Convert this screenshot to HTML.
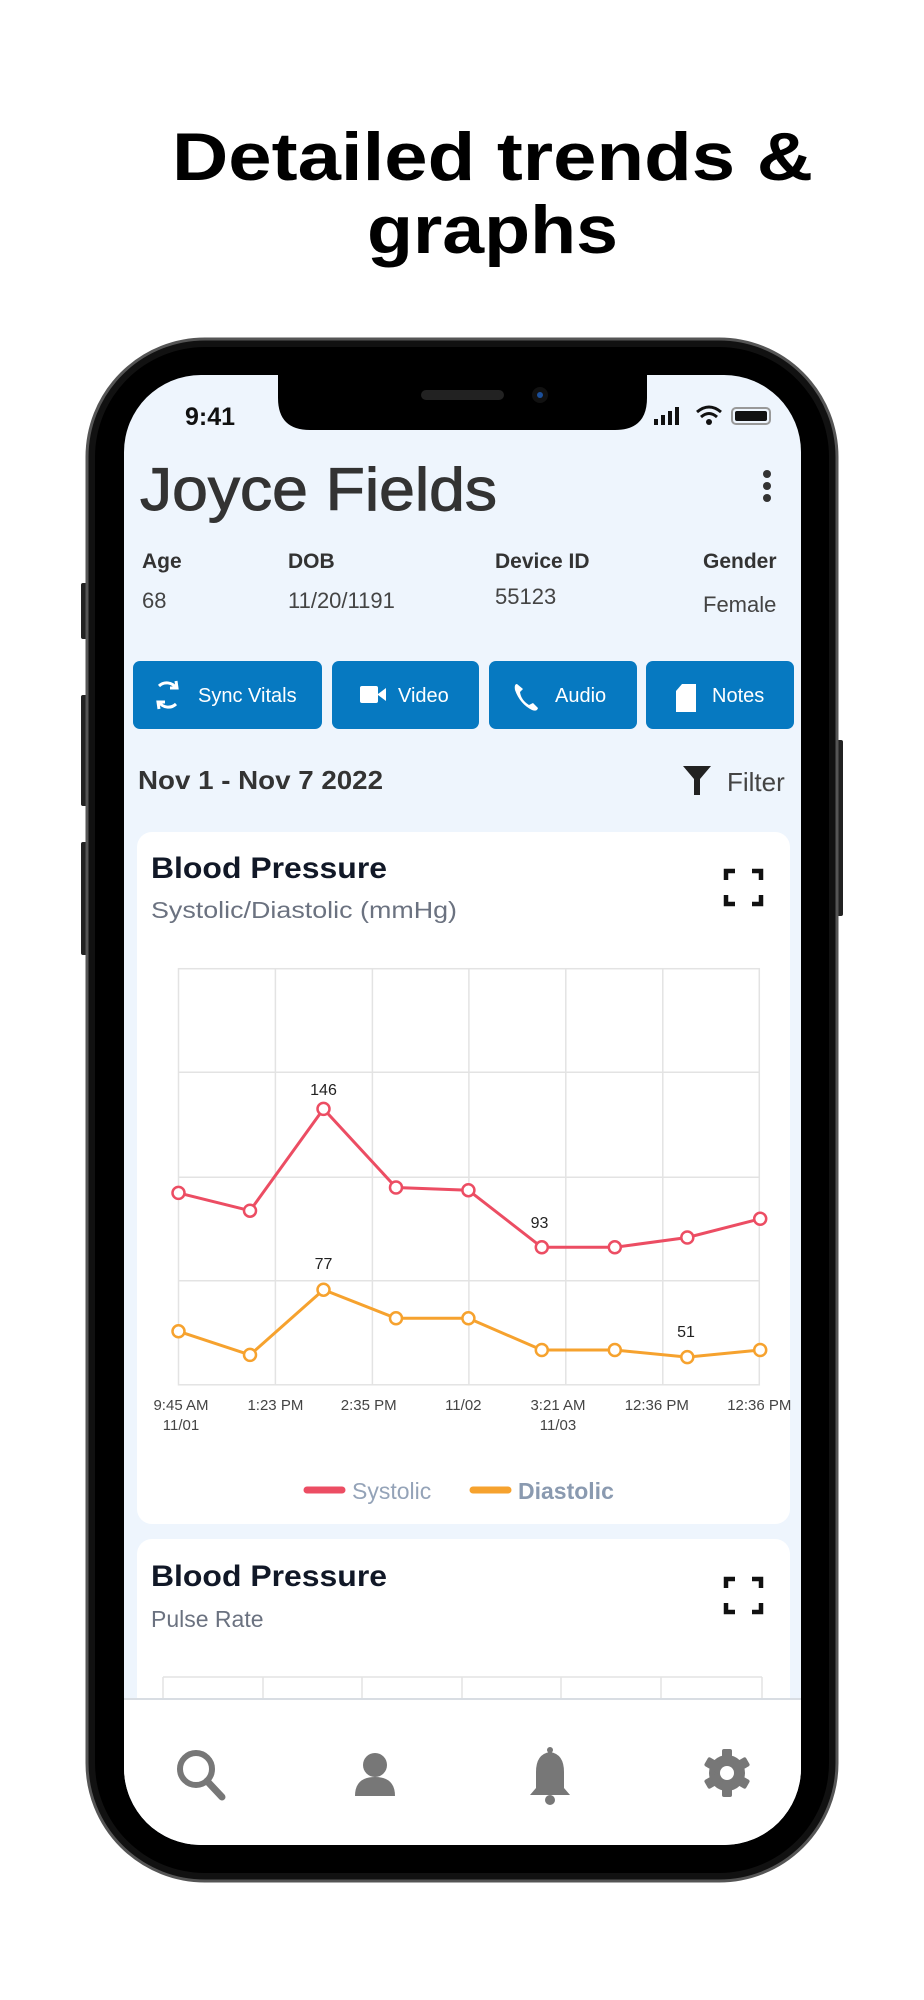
<!DOCTYPE html>
<html><head><meta charset="utf-8"><style>
html,body{margin:0;padding:0;background:#fff;width:924px;height:2000px;overflow:hidden}
svg{display:block}
text{font-family:"Liberation Sans",sans-serif}
</style></head><body>
<svg width="924" height="2000" viewBox="0 0 924 2000" xmlns="http://www.w3.org/2000/svg">
<rect width="924" height="2000" fill="#fff"/>
<text x="172" y="180" font-size="68" font-weight="bold" fill="#000" textLength="641" lengthAdjust="spacingAndGlyphs">Detailed trends &amp;</text>
<text x="367" y="253" font-size="68" font-weight="bold" fill="#000" textLength="251" lengthAdjust="spacingAndGlyphs">graphs</text>

<!-- side buttons -->
<rect x="81" y="583" width="8" height="56" rx="2" fill="#222"/>
<rect x="81" y="695" width="8" height="111" rx="2" fill="#222"/>
<rect x="81" y="842" width="8" height="113" rx="2" fill="#222"/>
<rect x="835" y="740" width="8" height="176" rx="2" fill="#222"/>
<!-- phone body -->
<rect x="87" y="339" width="750" height="1542" rx="118" fill="#111" stroke="#555" stroke-width="3"/>
<rect x="95" y="347" width="734" height="1526" rx="110" fill="#000"/>
<!-- screen -->
<clipPath id="scr"><rect x="124" y="375" width="677" height="1470" rx="77"/></clipPath>
<g clip-path="url(#scr)">
<rect x="124" y="375" width="677" height="1470" fill="#eef5fd"/>
<path d="M278 370 H647 V398 Q647 430 615 430 H310 Q278 430 278 398 Z" fill="#000"/>
<rect x="421" y="390" width="83" height="10" rx="5" fill="#222"/>
<circle cx="540" cy="395" r="8" fill="#111"/><circle cx="540" cy="395" r="3" fill="#1b4f9a"/>
<text x="185" y="425" font-size="25" font-weight="bold" fill="#111">9:41</text>
<rect x="654" y="419" width="4" height="6" fill="#111"/><rect x="661" y="415" width="4" height="10" fill="#111"/><rect x="668" y="411" width="4" height="14" fill="#111"/><rect x="675" y="407" width="4" height="18" fill="#111"/>
<path d="M697 412 Q709 402 721 412 M701 417 Q709 410 717 417" stroke="#111" stroke-width="3" fill="none"/><circle cx="709" cy="422" r="3" fill="#111"/>
<rect x="732" y="408" width="38" height="16" rx="4" fill="none" stroke="#999" stroke-width="2"/><rect x="735" y="411" width="32" height="10" rx="2" fill="#111"/>

<text x="140" y="510" font-size="60" fill="#333" stroke="#333" stroke-width="1" textLength="357" lengthAdjust="spacingAndGlyphs">Joyce Fields</text>
<circle cx="767" cy="474" r="4" fill="#333"/><circle cx="767" cy="486" r="4" fill="#333"/><circle cx="767" cy="498" r="4" fill="#333"/>

<g font-size="21" font-weight="bold" fill="#333">
<text x="142" y="568">Age</text><text x="288" y="568">DOB</text><text x="495" y="568">Device ID</text><text x="703" y="568">Gender</text></g>
<g font-size="22" fill="#444">
<text x="142" y="608">68</text><text x="288" y="608">11/20/1191</text><text x="495" y="604">55123</text><text x="703" y="612">Female</text></g>

<g fill="#0679c1">
<rect x="133" y="661" width="189" height="68" rx="7"/><rect x="332" y="661" width="147" height="68" rx="7"/>
<rect x="489" y="661" width="148" height="68" rx="7"/><rect x="646" y="661" width="148" height="68" rx="7"/></g>
<g fill="#fff" font-size="20">
<text x="198" y="702">Sync Vitals</text><text x="398" y="702">Video</text><text x="555" y="702">Audio</text><text x="712" y="702">Notes</text></g>
<path d="M159 686 A11 11 0 0 1 176 688 M170 688 L177 688 L176 681 M176 704 A11 11 0 0 1 159 702 M165 702 L158 702 L159 709" stroke="#fff" stroke-width="3" fill="none"/>
<rect x="360" y="686" width="18" height="17" rx="2" fill="#fff"/><path d="M378 694 L386 688 V701 L378 695Z" fill="#fff"/>
<path d="M517 684 Q514 684 515 690 Q520 704 532 710 Q537 712 538 708 L533 703 L529 705 Q521 700 520 692 L523 689 Z" fill="#fff"/>
<path d="M682 684 H696 V712 H676 V691 Z" fill="#fff"/>

<text x="138" y="789" font-size="26" font-weight="bold" fill="#333" textLength="245" lengthAdjust="spacingAndGlyphs">Nov 1 - Nov 7 2022</text>
<path d="M683 766 H711 L700 779 V795 H694 V779 Z" fill="#222"/>
<text x="727" y="791" font-size="26" fill="#444">Filter</text>

<rect x="137" y="832" width="653" height="692" rx="15" fill="#fff"/>
<text x="151" y="878" font-size="30" font-weight="bold" fill="#111827" textLength="236" lengthAdjust="spacingAndGlyphs">Blood Pressure</text>
<text x="151" y="918" font-size="23" fill="#6b7280" textLength="306" lengthAdjust="spacingAndGlyphs">Systolic/Diastolic (mmHg)</text>
<path d="M726 880 V871 H735 M752 871 H761 V880 M761 895 V904 H752 M735 904 H726 V895" stroke="#111" stroke-width="4.5" fill="none"/>
<g stroke="#e3e3e3" stroke-width="1.5" fill="none">
<rect x="178.5" y="968.7" width="580.8" height="416.1"/>
<line x1="178.5" y1="1072.3" x2="759.3" y2="1072.3"/><line x1="178.5" y1="1177.2" x2="759.3" y2="1177.2"/><line x1="178.5" y1="1280.8" x2="759.3" y2="1280.8"/>
<line x1="275.4" y1="968.7" x2="275.4" y2="1384.8"/><line x1="372.4" y1="968.7" x2="372.4" y2="1384.8"/><line x1="468.9" y1="968.7" x2="468.9" y2="1384.8"/><line x1="565.8" y1="968.7" x2="565.8" y2="1384.8"/><line x1="662.8" y1="968.7" x2="662.8" y2="1384.8"/></g>
<g fill="none" stroke-width="3">
<polyline stroke="#ec4d63" points="178.5,1192.9 250,1210.7 323.5,1108.9 396,1187.5 468.4,1190.2 541.8,1247.3 614.8,1247.3 687.3,1237.5 760.2,1218.8"/>
<polyline stroke="#f6a22e" points="178.5,1331.3 250,1354.9 323.5,1289.7 396,1318.3 468.4,1318.3 541.8,1350 614.8,1350 687.3,1357.1 760.2,1350"/></g>
<g fill="#fff" stroke="#ec4d63" stroke-width="2.5">
<circle cx="178.5" cy="1192.9" r="6"/><circle cx="250" cy="1210.7" r="6"/><circle cx="323.5" cy="1108.9" r="6"/><circle cx="396" cy="1187.5" r="6"/><circle cx="468.4" cy="1190.2" r="6"/><circle cx="541.8" cy="1247.3" r="6"/><circle cx="614.8" cy="1247.3" r="6"/><circle cx="687.3" cy="1237.5" r="6"/><circle cx="760.2" cy="1218.8" r="6"/></g>
<g fill="#fff" stroke="#f6a22e" stroke-width="2.5">
<circle cx="178.5" cy="1331.3" r="6"/><circle cx="250" cy="1354.9" r="6"/><circle cx="323.5" cy="1289.7" r="6"/><circle cx="396" cy="1318.3" r="6"/><circle cx="468.4" cy="1318.3" r="6"/><circle cx="541.8" cy="1350" r="6"/><circle cx="614.8" cy="1350" r="6"/><circle cx="687.3" cy="1357.1" r="6"/><circle cx="760.2" cy="1350" r="6"/></g>
<g font-size="16" fill="#222" text-anchor="middle">
<text x="323.5" y="1095">146</text><text x="539.5" y="1228">93</text><text x="323.5" y="1269">77</text><text x="686" y="1337">51</text></g>
<g font-size="15" fill="#444" text-anchor="middle">
<text x="181" y="1410">9:45 AM</text><text x="181" y="1430">11/01</text>
<text x="275.4" y="1410">1:23 PM</text><text x="368.7" y="1410">2:35 PM</text><text x="463.3" y="1410">11/02</text>
<text x="558" y="1410">3:21 AM</text><text x="558" y="1430">11/03</text>
<text x="656.8" y="1410">12:36 PM</text><text x="759.3" y="1410">12:36 PM</text></g>
<line x1="307" y1="1490" x2="342" y2="1490" stroke="#ec4d63" stroke-width="7" stroke-linecap="round"/>
<text x="352" y="1499" font-size="23" fill="#94a3b8">Systolic</text>
<line x1="473" y1="1490" x2="508" y2="1490" stroke="#f6a22e" stroke-width="7" stroke-linecap="round"/>
<text x="518" y="1499" font-size="23" font-weight="bold" fill="#8a9ab0">Diastolic</text>

<rect x="137" y="1539" width="653" height="300" rx="15" fill="#fff"/>
<text x="151" y="1586" font-size="30" font-weight="bold" fill="#111827" textLength="236" lengthAdjust="spacingAndGlyphs">Blood Pressure</text>
<text x="151" y="1627" font-size="23" fill="#6b7280">Pulse Rate</text>
<path d="M726 1588 V1579 H735 M752 1579 H761 V1588 M761 1603 V1612 H752 M735 1612 H726 V1603" stroke="#111" stroke-width="4.5" fill="none"/>
<g stroke="#e3e3e3" stroke-width="1.5">
<line x1="163" y1="1677" x2="762" y2="1677"/>
<line x1="163" y1="1677" x2="163" y2="1700"/><line x1="263" y1="1677" x2="263" y2="1700"/><line x1="362" y1="1677" x2="362" y2="1700"/><line x1="462" y1="1677" x2="462" y2="1700"/><line x1="561" y1="1677" x2="561" y2="1700"/><line x1="661" y1="1677" x2="661" y2="1700"/><line x1="762" y1="1677" x2="762" y2="1700"/></g>

<rect x="124" y="1698" width="677" height="4" fill="#d8dde3"/>
<rect x="124" y="1700" width="677" height="150" fill="#fff"/>
<g fill="#777">
<circle cx="196" cy="1769" r="16" fill="none" stroke="#777" stroke-width="6"/>
<line x1="207" y1="1781" x2="222" y2="1797" stroke="#777" stroke-width="7" stroke-linecap="round"/>
<circle cx="375" cy="1765" r="12"/><path d="M355 1796 Q355 1777 375 1777 Q395 1777 395 1796 Z"/>
<path d="M550 1752 Q536 1754 536 1772 V1788 L530 1795 H570 L564 1788 V1772 Q564 1754 550 1752Z"/><circle cx="550" cy="1800" r="5"/><circle cx="550" cy="1750" r="3"/>
<circle cx="727" cy="1773" r="18"/>
<g transform="translate(727 1773)"><rect x="-5" y="-24" width="10" height="48" rx="2"/><rect x="-5" y="-24" width="10" height="48" rx="2" transform="rotate(60)"/><rect x="-5" y="-24" width="10" height="48" rx="2" transform="rotate(120)"/></g>
<circle cx="727" cy="1773" r="7" fill="#fff"/>
</g>
</g>
</svg>
</body></html>
